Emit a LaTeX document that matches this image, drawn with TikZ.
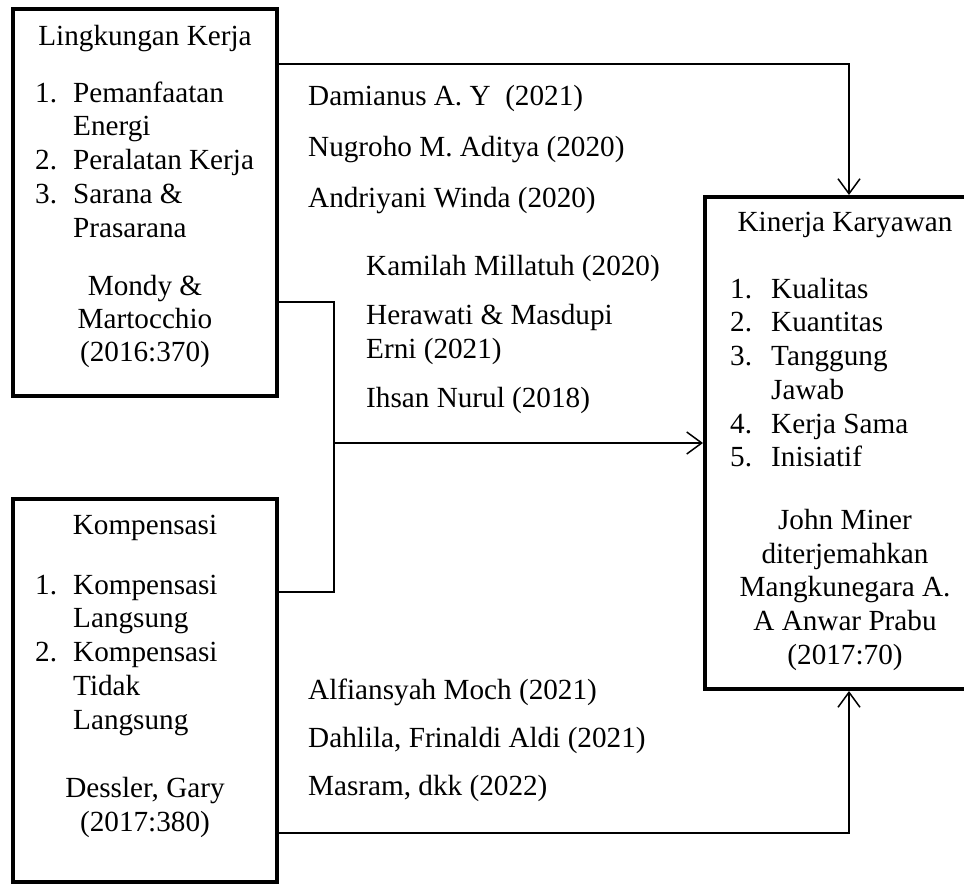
\documentclass[tikz,border=0pt]{standalone}
\usepackage{fontspec}
\setmainfont{Liberation Serif}
\usetikzlibrary{arrows.meta}
\begin{document}
\begin{tikzpicture}[x=1pt,y=-1pt,
  box/.style={draw, line width=4pt, rectangle, inner sep=0pt},
  conn/.style={line width=1.5pt},
  arr/.style={conn, -{Straight Barb[length=15pt,width=22pt,line width=1.5pt]}},
  txt/.style={inner sep=0pt, anchor=mid, font=\fontsize{29.2}{34}\selectfont},
  lft/.style={txt, anchor=mid west}]
\useasboundingbox (0,0) rectangle (964,885);
\clip (0,0) rectangle (964,885);
% boxes
\node[box, minimum width=264.5pt, minimum height=387pt] (b1) at (144.75,202.5) {};
\node[box, minimum width=264.5pt, minimum height=383pt] (b2) at (144.75,690.5) {};
\node[box, minimum width=280pt, minimum height=492pt] (b3) at (845,443) {};
% box 1 text
\node[txt] (t1) at (145,43) {Lingkungan Kerja};
\node[lft] (t1n1) at (35,100) {1.};
\node[lft] (t1a) at (73,100) {Pemanfaatan};
\node[lft] (t1b) at (73,133.7) {Energi};
\node[lft] (t1n2) at (35,167.4) {2.};
\node[lft] (t1c) at (73,167.4) {Peralatan Kerja};
\node[lft] (t1n3) at (35,201.1) {3.};
\node[lft] (t1d) at (73,201.1) {Sarana \&};
\node[lft] (t1e) at (73,234.8) {Prasarana};
\node[txt] (t1r1) at (145,293) {Mondy \&};
\node[txt] (t1r2) at (145,326) {Martocchio};
\node[txt] (t1r3) at (145,359) {(2016:370)};
% box 2 text
\node[txt] (t2) at (145,532) {Kompensasi};
\node[lft] (t2n1) at (35,592) {1.};
\node[lft] (t2a) at (73,592) {Kompensasi};
\node[lft] (t2b) at (73,625.7) {Langsung};
\node[lft] (t2n2) at (35,659.4) {2.};
\node[lft] (t2c) at (73,659.4) {Kompensasi};
\node[lft] (t2d) at (73,693.1) {Tidak};
\node[lft] (t2e) at (73,726.8) {Langsung};
\node[txt] (t2r1) at (145,795) {Dessler, Gary};
\node[txt] (t2r2) at (145,829) {(2017:380)};
% box 3 text
\node[txt] (t3) at (845,229) {Kinerja Karyawan};
\node[lft] (t3n1) at (730,296) {1.};
\node[lft] (t3a) at (771,296) {Kualitas};
\node[lft] (t3n2) at (730,329.7) {2.};
\node[lft] (t3b) at (771,329.7) {Kuantitas};
\node[lft] (t3n3) at (730,363.4) {3.};
\node[lft] (t3c) at (771,363.4) {Tanggung};
\node[lft] (t3d) at (771,397.1) {Jawab};
\node[lft] (t3n4) at (730,430.8) {4.};
\node[lft] (t3e) at (771,430.8) {Kerja Sama};
\node[lft] (t3n5) at (730,464.5) {5.};
\node[lft] (t3f) at (771,464.5) {Inisiatif};
\node[txt] (t3r1) at (845,527) {John Miner};
\node[txt] (t3r2) at (845,561) {diterjemahkan};
\node[txt] (t3r3) at (845,594) {Mangkunegara A.};
\node[txt] (t3r4) at (845,628) {A Anwar Prabu};
\node[txt] (t3r5) at (845,662) {(2017:70)};
% references on connectors
\node[lft] (r1) at (308,103) {Damianus A. Y~~(2021)};
\node[lft] (r2) at (308,154) {Nugroho M. Aditya (2020)};
\node[lft] (r3) at (308,205) {Andriyani Winda (2020)};
\node[lft] (r4) at (366,273) {Kamilah Millatuh (2020)};
\node[lft] (r5) at (366,322) {Herawati \& Masdupi};
\node[lft] (r6) at (366,356) {Erni (2021)};
\node[lft] (r7) at (366,405) {Ihsan Nurul (2018)};
\node[lft] (r8) at (308,697) {Alfiansyah Moch (2021)};
\node[lft] (r9) at (308,745) {Dahlila, Frinaldi Aldi (2021)};
\node[lft] (r10) at (308,793) {Masram, dkk (2022)};
% connectors
\coordinate (jt) at (849,64);
\draw[arr] (b1.east |- jt) -- (jt) -- (b3.north -| jt);
\coordinate (m1) at (334,302);
\coordinate (m2) at (334,592);
\coordinate (jm) at (334,443);
\draw[conn] (b1.east |- m1) -- (m1) -- (m2) -- (b2.east |- m2);
\draw[arr] (jm) -- (b3.west |- jm);
\coordinate (jb) at (849,833);
\draw[arr] (b2.east |- jb) -- (jb) -- (b3.south -| jb);
\end{tikzpicture}
\end{document}
